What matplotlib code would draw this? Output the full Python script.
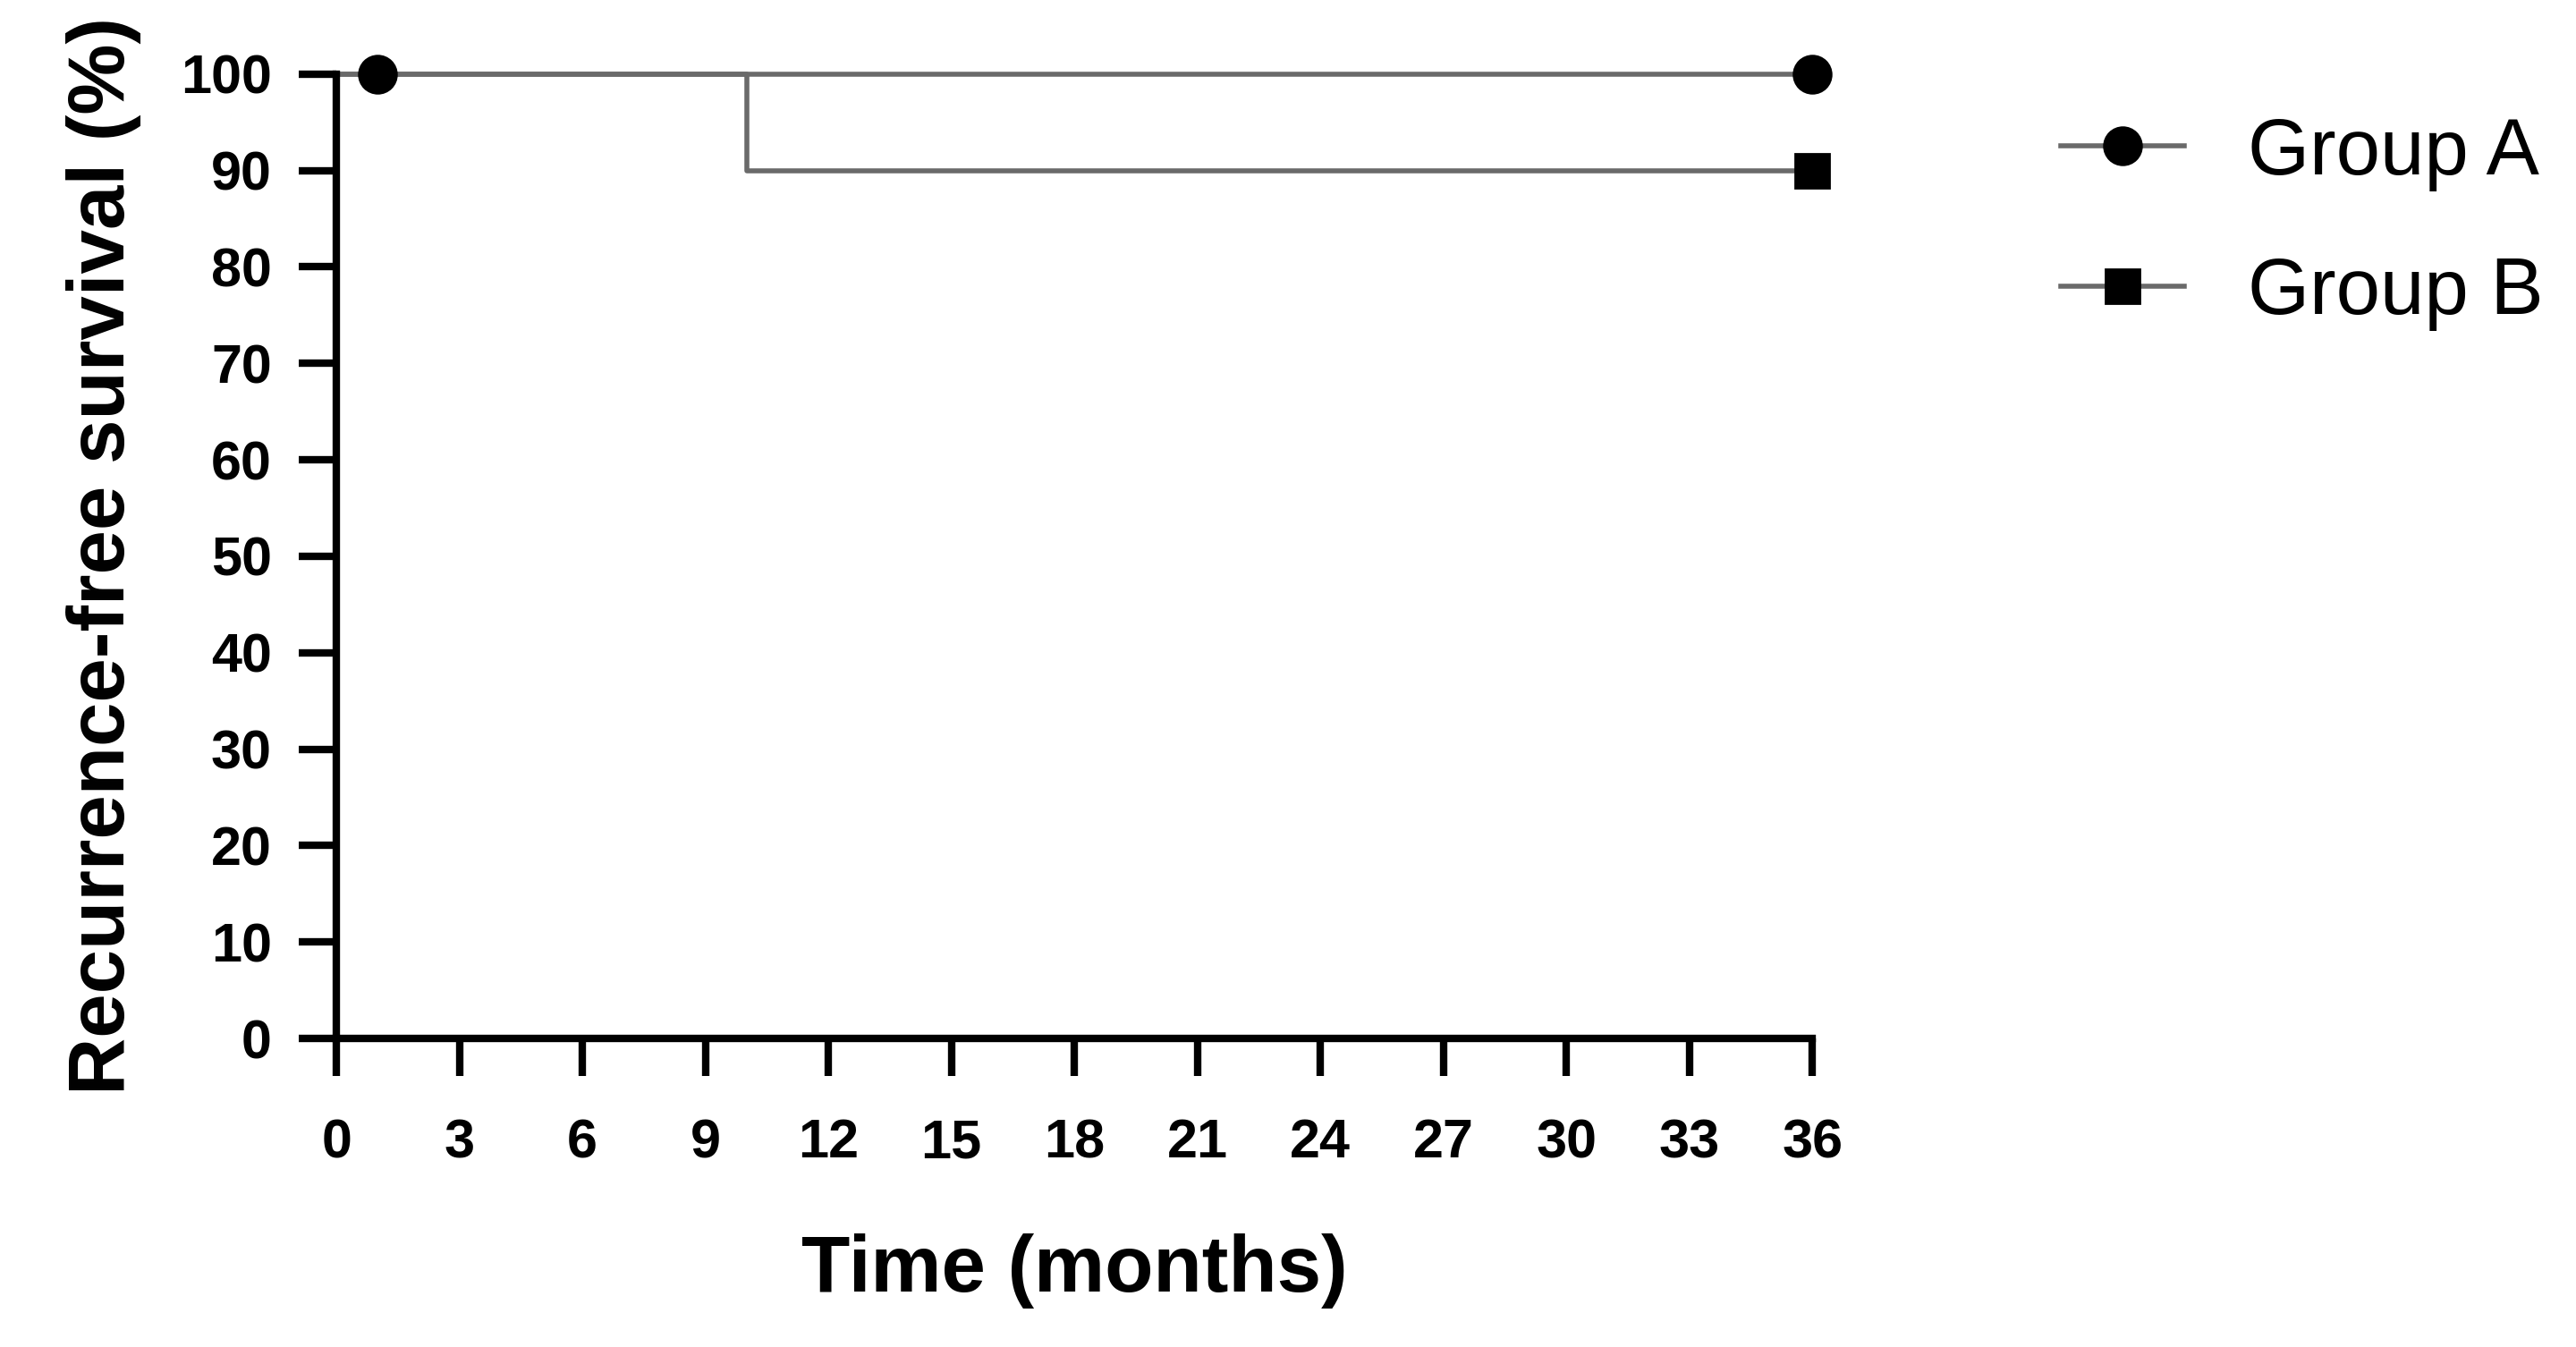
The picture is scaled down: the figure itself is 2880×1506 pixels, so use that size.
import matplotlib.pyplot as plt

# Kaplan-Meier style data (months, % recurrence-free)
time_a = [0, 36]
surv_a = [100, 100]
cens_time_a = [1, 36]
cens_surv_a = [100, 100]

time_b = [0, 10, 36]
surv_b = [100, 90, 90]
cens_time_b = [36]
cens_surv_b = [90]

x_ticks = list(range(0, 37, 3))
y_ticks = list(range(0, 101, 10))

plt.rcParams['font.family'] = ['Liberation Sans', 'DejaVu Sans']

fig = plt.figure(figsize=(14.4, 7.53), dpi=200)
ax = fig.add_axes([0.1306, 0.229, 0.573, 0.716])

line_col = "#6a6a6a"

ax.step(time_b, surv_b, where="post", color=line_col, lw=2.0, clip_on=False, zorder=2)
ax.step(time_a, surv_a, where="post", color=line_col, lw=2.0, clip_on=False, zorder=2)
ax.plot(cens_time_a, cens_surv_a, "o", color="black", ms=15, clip_on=False, zorder=3)
ax.plot(cens_time_b, cens_surv_b, "s", color="black", ms=13.5, clip_on=False, zorder=3)

# legend handles
ha, = ax.plot([], [], "-o", color=line_col, mfc="black", mec="black", ms=15, lw=2.0)
hb, = ax.plot([], [], "-s", color=line_col, mfc="black", mec="black", ms=13.5, lw=2.0)
fig.legend([ha, hb], ["Group A", "Group B"], loc="upper left",
           bbox_to_anchor=(0.800, 0.914), frameon=False, fontsize=32,
           handlelength=1.55, handletextpad=0.8, labelspacing=0.82,
           borderpad=0, borderaxespad=0)

ax.set_xlim(0, 36)
ax.set_ylim(0, 100)
ax.set_xticks(x_ticks)
ax.set_yticks(y_ticks)

for s in ["top", "right"]:
    ax.spines[s].set_visible(False)
for s in ["left", "bottom"]:
    ax.spines[s].set_linewidth(3)

ax.tick_params(axis="both", length=15, width=3, labelsize=22)
ax.tick_params(axis="x", pad=17)
ax.tick_params(axis="y", pad=11)
for lab in ax.get_xticklabels() + ax.get_yticklabels():
    lab.set_fontweight("bold")

ax.set_xlabel("Time (months)", fontsize=32, fontweight="bold", labelpad=26)
ax.set_ylabel("Recurrence-free survival (%)", fontsize=32, fontweight="bold", labelpad=16)

fig.savefig("out.png", dpi=200)
